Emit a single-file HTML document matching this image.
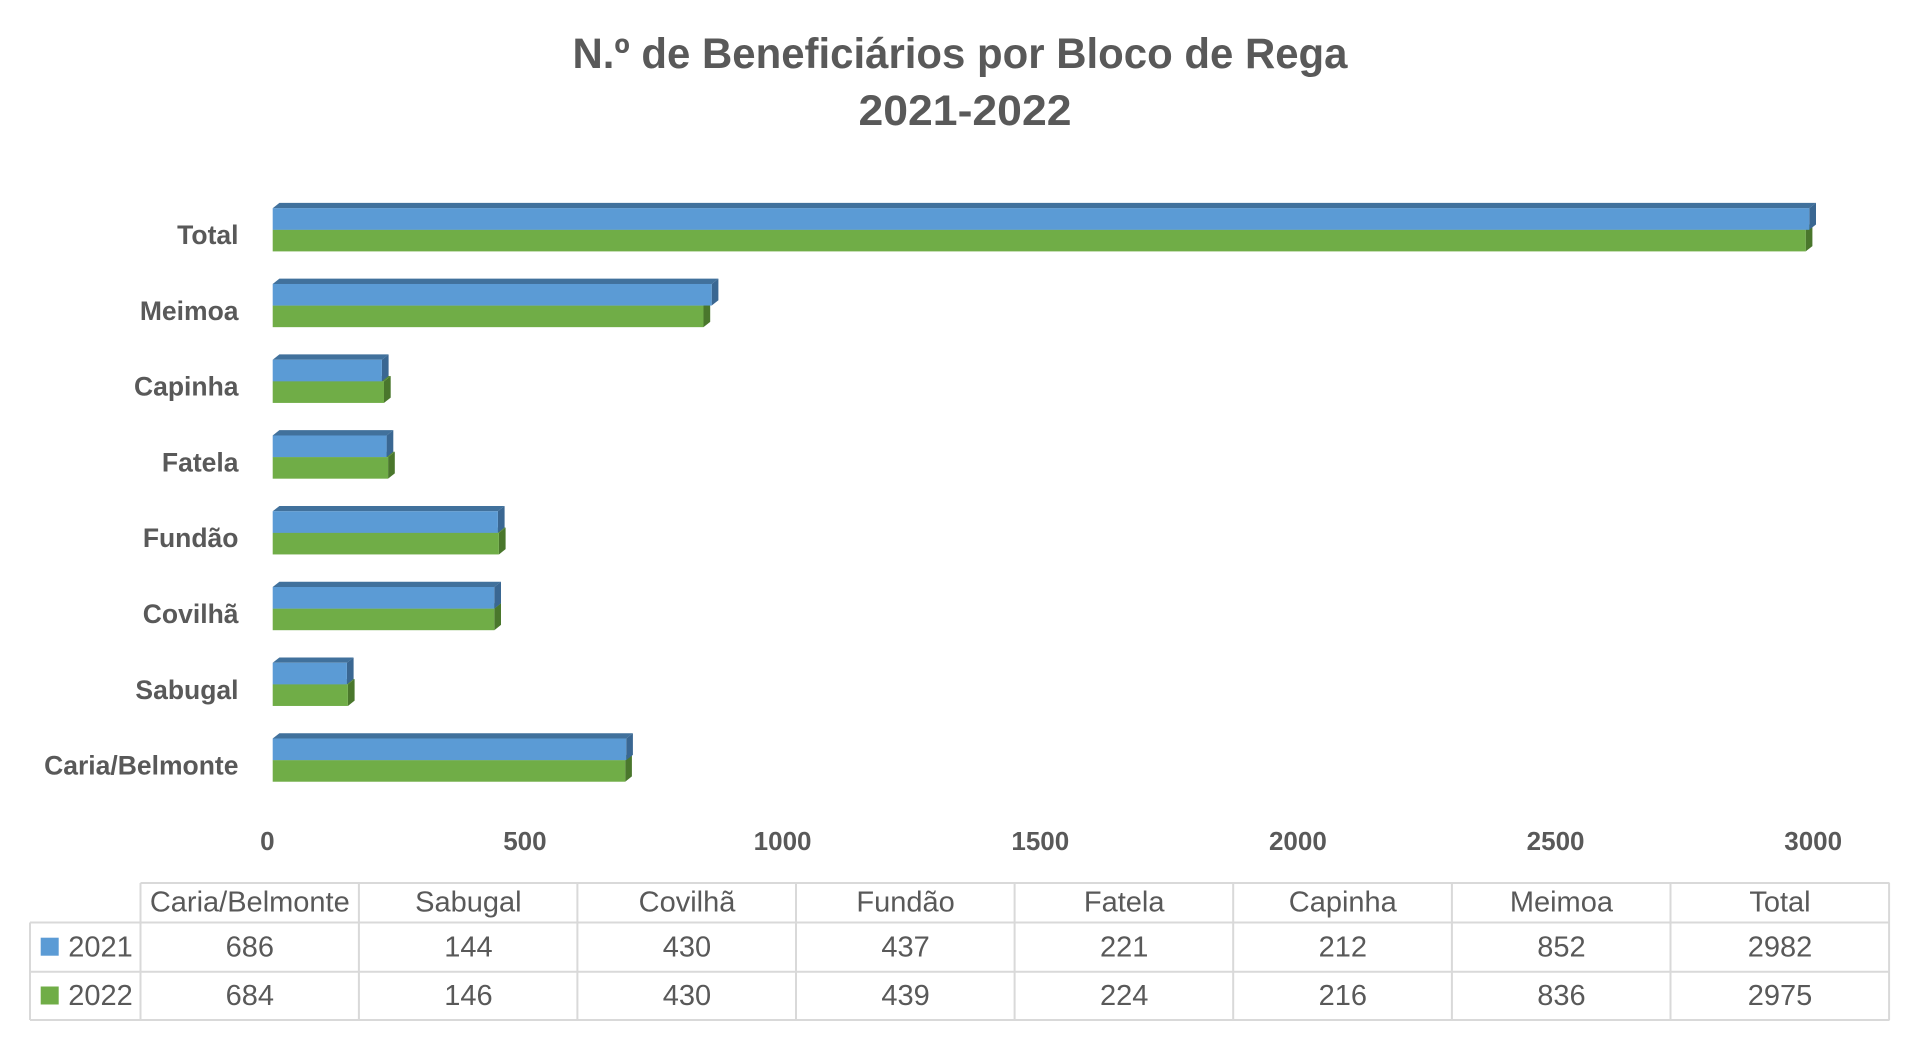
<!DOCTYPE html>
<html>
<head>
<meta charset="utf-8">
<style>
  html,body{margin:0;padding:0;background:#fff;}
  svg{display:block;}
  text{font-family:"Liberation Sans", Arial, sans-serif; fill:#595959;}
  .cat{font-size:26.5px;font-weight:bold;text-anchor:end;}
  .ax{font-size:26px;font-weight:bold;text-anchor:middle;}
  .tb{font-size:29px;text-anchor:middle;}
  .bf{fill:#5B9BD5;} .bt{fill:#41719C;} .bs{fill:#3A6792;}
  .gf{fill:#70AD47;} .gt{fill:#578A36;} .gs{fill:#4A772C;}
</style>
</head>
<body>
<svg width="1920" height="1051" viewBox="0 0 1920 1051" xmlns="http://www.w3.org/2000/svg">
  <rect width="1920" height="1051" fill="#fff"/>
  <!-- Title -->
  <text x="960" y="68" font-size="43" font-weight="bold" text-anchor="middle" textLength="775" lengthAdjust="spacingAndGlyphs">N.º de Beneficiários por Bloco de Rega</text>
  <text x="965" y="125" font-size="43" font-weight="bold" text-anchor="middle" textLength="213" lengthAdjust="spacingAndGlyphs">2021-2022</text>

  <!-- Total -->
  <g transform="translate(0,208.2)">
    <text class="cat" x="238.5" y="36">Total</text>
    <polygon class="gt" points="272.7,21.6 279.4,16.3 1812.4,16.3 1805.7,21.6"/>
    <polygon class="gs" points="1805.7,21.6 1812.4,16.3 1812.4,37.9 1805.7,43.2"/>
    <rect class="gf" x="272.7" y="21.6" width="1533.0" height="21.6"/>
    <polygon class="bt" points="272.7,0 279.4,-5.3 1816.0,-5.3 1809.3,0"/>
    <polygon class="bs" points="1809.3,0 1816.0,-5.3 1816.0,16.3 1809.3,21.6"/>
    <rect class="bf" x="272.7" y="0" width="1536.6" height="21.6"/>
  </g>
  <!-- Meimoa -->
  <g transform="translate(0,283.96)">
    <text class="cat" x="238.5" y="36">Meimoa</text>
    <polygon class="gt" points="272.7,21.6 279.4,16.3 710.2,16.3 703.5,21.6"/>
    <polygon class="gs" points="703.5,21.6 710.2,16.3 710.2,37.9 703.5,43.2"/>
    <rect class="gf" x="272.7" y="21.6" width="430.8" height="21.6"/>
    <polygon class="bt" points="272.7,0 279.4,-5.3 718.4,-5.3 711.7,0"/>
    <polygon class="bs" points="711.7,0 718.4,-5.3 718.4,16.3 711.7,21.6"/>
    <rect class="bf" x="272.7" y="0" width="439.0" height="21.6"/>
  </g>
  <!-- Capinha -->
  <g transform="translate(0,359.72)">
    <text class="cat" x="238.5" y="36">Capinha</text>
    <polygon class="gt" points="272.7,21.6 279.4,16.3 390.7,16.3 384.0,21.6"/>
    <polygon class="gs" points="384.0,21.6 390.7,16.3 390.7,37.9 384.0,43.2"/>
    <rect class="gf" x="272.7" y="21.6" width="111.3" height="21.6"/>
    <polygon class="bt" points="272.7,0 279.4,-5.3 388.6,-5.3 381.9,0"/>
    <polygon class="bs" points="381.9,0 388.6,-5.3 388.6,16.3 381.9,21.6"/>
    <rect class="bf" x="272.7" y="0" width="109.2" height="21.6"/>
  </g>
  <!-- Fatela -->
  <g transform="translate(0,435.48)">
    <text class="cat" x="238.5" y="36">Fatela</text>
    <polygon class="gt" points="272.7,21.6 279.4,16.3 394.8,16.3 388.1,21.6"/>
    <polygon class="gs" points="388.1,21.6 394.8,16.3 394.8,37.9 388.1,43.2"/>
    <rect class="gf" x="272.7" y="21.6" width="115.4" height="21.6"/>
    <polygon class="bt" points="272.7,0 279.4,-5.3 393.3,-5.3 386.6,0"/>
    <polygon class="bs" points="386.6,0 393.3,-5.3 393.3,16.3 386.6,21.6"/>
    <rect class="bf" x="272.7" y="0" width="113.9" height="21.6"/>
  </g>
  <!-- Fundão -->
  <g transform="translate(0,511.24)">
    <text class="cat" x="238.5" y="36">Fundão</text>
    <polygon class="gt" points="272.7,21.6 279.4,16.3 505.6,16.3 498.9,21.6"/>
    <polygon class="gs" points="498.9,21.6 505.6,16.3 505.6,37.9 498.9,43.2"/>
    <rect class="gf" x="272.7" y="21.6" width="226.2" height="21.6"/>
    <polygon class="bt" points="272.7,0 279.4,-5.3 504.6,-5.3 497.9,0"/>
    <polygon class="bs" points="497.9,0 504.6,-5.3 504.6,16.3 497.9,21.6"/>
    <rect class="bf" x="272.7" y="0" width="225.2" height="21.6"/>
  </g>
  <!-- Covilhã -->
  <g transform="translate(0,587.0)">
    <text class="cat" x="238.5" y="36">Covilhã</text>
    <polygon class="gt" points="272.7,21.6 279.4,16.3 501.0,16.3 494.3,21.6"/>
    <polygon class="gs" points="494.3,21.6 501.0,16.3 501.0,37.9 494.3,43.2"/>
    <rect class="gf" x="272.7" y="21.6" width="221.6" height="21.6"/>
    <polygon class="bt" points="272.7,0 279.4,-5.3 501.0,-5.3 494.3,0"/>
    <polygon class="bs" points="494.3,0 501.0,-5.3 501.0,16.3 494.3,21.6"/>
    <rect class="bf" x="272.7" y="0" width="221.6" height="21.6"/>
  </g>
  <!-- Sabugal -->
  <g transform="translate(0,662.76)">
    <text class="cat" x="238.5" y="36">Sabugal</text>
    <polygon class="gt" points="272.7,21.6 279.4,16.3 354.6,16.3 347.9,21.6"/>
    <polygon class="gs" points="347.9,21.6 354.6,16.3 354.6,37.9 347.9,43.2"/>
    <rect class="gf" x="272.7" y="21.6" width="75.2" height="21.6"/>
    <polygon class="bt" points="272.7,0 279.4,-5.3 353.6,-5.3 346.9,0"/>
    <polygon class="bs" points="346.9,0 353.6,-5.3 353.6,16.3 346.9,21.6"/>
    <rect class="bf" x="272.7" y="0" width="74.2" height="21.6"/>
  </g>
  <!-- Caria/Belmonte -->
  <g transform="translate(0,738.52)">
    <text class="cat" x="238.5" y="36">Caria/Belmonte</text>
    <polygon class="gt" points="272.7,21.6 279.4,16.3 631.9,16.3 625.2,21.6"/>
    <polygon class="gs" points="625.2,21.6 631.9,16.3 631.9,37.9 625.2,43.2"/>
    <rect class="gf" x="272.7" y="21.6" width="352.5" height="21.6"/>
    <polygon class="bt" points="272.7,0 279.4,-5.3 632.9,-5.3 626.2,0"/>
    <polygon class="bs" points="626.2,0 632.9,-5.3 632.9,16.3 626.2,21.6"/>
    <rect class="bf" x="272.7" y="0" width="353.5" height="21.6"/>
  </g>

  <!-- Axis labels -->
  <text class="ax" x="267.3" y="850">0</text>
  <text class="ax" x="524.9" y="850">500</text>
  <text class="ax" x="782.6" y="850">1000</text>
  <text class="ax" x="1040.3" y="850">1500</text>
  <text class="ax" x="1297.9" y="850">2000</text>
  <text class="ax" x="1555.6" y="850">2500</text>
  <text class="ax" x="1813.2" y="850">3000</text>

  <!-- Data table -->
  <g stroke="#D9D9D9" stroke-width="2" fill="none">
    <line x1="140.5" y1="883" x2="1889.5" y2="883"/>
    <line x1="30" y1="922.5" x2="1889.5" y2="922.5"/>
    <line x1="30" y1="971.7" x2="1889.5" y2="971.7"/>
    <line x1="30" y1="1020" x2="1889.5" y2="1020"/>
    <line x1="30" y1="922.5" x2="30" y2="1020"/>
    <line x1="140.5" y1="883" x2="140.5" y2="1020"/>
    <line x1="358.9" y1="883" x2="358.9" y2="1020"/>
    <line x1="577.4" y1="883" x2="577.4" y2="1020"/>
    <line x1="796.0" y1="883" x2="796.0" y2="1020"/>
    <line x1="1014.6" y1="883" x2="1014.6" y2="1020"/>
    <line x1="1233.2" y1="883" x2="1233.2" y2="1020"/>
    <line x1="1451.9" y1="883" x2="1451.9" y2="1020"/>
    <line x1="1670.5" y1="883" x2="1670.5" y2="1020"/>
    <line x1="1889.1" y1="883" x2="1889.1" y2="1020"/>
  </g>
  <!-- Header -->
  <text class="tb" x="249.8" y="911.7">Caria/Belmonte</text>
  <text class="tb" x="468.4" y="911.7">Sabugal</text>
  <text class="tb" x="687.0" y="911.7">Covilhã</text>
  <text class="tb" x="905.6" y="911.7">Fundão</text>
  <text class="tb" x="1124.2" y="911.7">Fatela</text>
  <text class="tb" x="1342.8" y="911.7">Capinha</text>
  <text class="tb" x="1561.4" y="911.7">Meimoa</text>
  <text class="tb" x="1780.0" y="911.7">Total</text>
  <!-- Row 2021 -->
  <rect x="40.7" y="937.7" width="18" height="18" fill="#5B9BD5"/>
  <text x="68.3" y="956.7" font-size="29">2021</text>
  <text class="tb" x="249.8" y="956.7">686</text>
  <text class="tb" x="468.4" y="956.7">144</text>
  <text class="tb" x="687.0" y="956.7">430</text>
  <text class="tb" x="905.6" y="956.7">437</text>
  <text class="tb" x="1124.2" y="956.7">221</text>
  <text class="tb" x="1342.8" y="956.7">212</text>
  <text class="tb" x="1561.4" y="956.7">852</text>
  <text class="tb" x="1780.0" y="956.7">2982</text>
  <!-- Row 2022 -->
  <rect x="40.7" y="986.5" width="18" height="18" fill="#70AD47"/>
  <text x="68.3" y="1005" font-size="29">2022</text>
  <text class="tb" x="249.8" y="1005">684</text>
  <text class="tb" x="468.4" y="1005">146</text>
  <text class="tb" x="687.0" y="1005">430</text>
  <text class="tb" x="905.6" y="1005">439</text>
  <text class="tb" x="1124.2" y="1005">224</text>
  <text class="tb" x="1342.8" y="1005">216</text>
  <text class="tb" x="1561.4" y="1005">836</text>
  <text class="tb" x="1780.0" y="1005">2975</text>
</svg>
</body>
</html>
